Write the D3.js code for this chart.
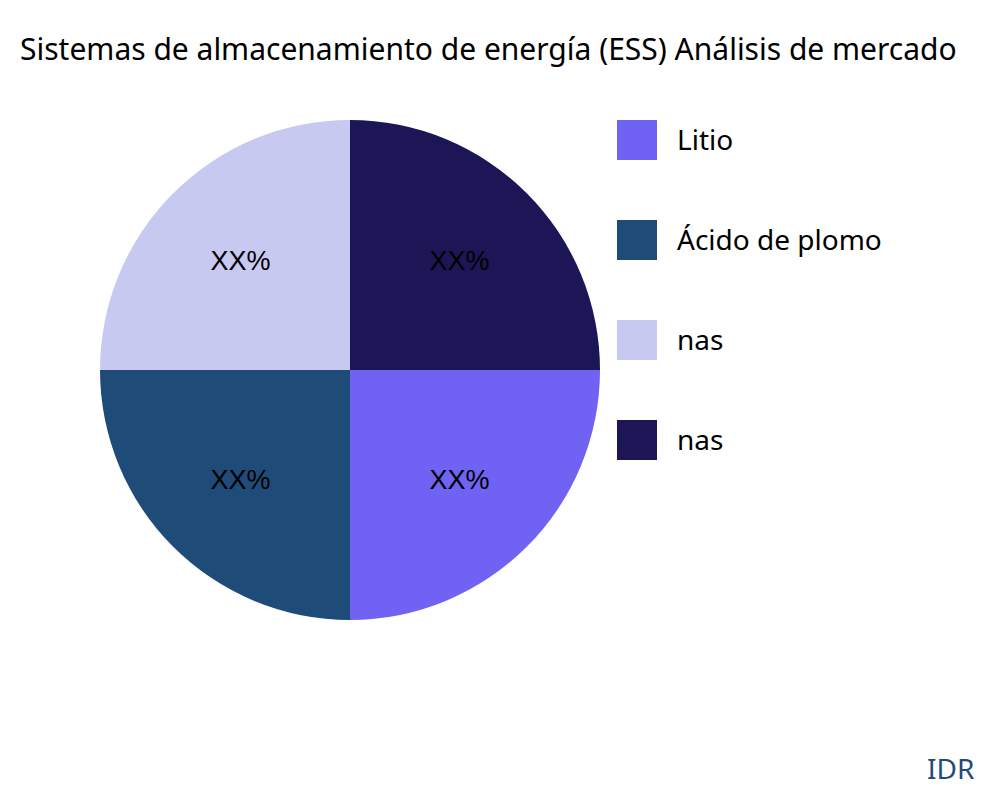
<!doctype html>
<html lang="es">
<head>
<meta charset="UTF-8">
<title>ESS</title>
<script src="https://cdn.jsdelivr.net/npm/d3@7"></script>
<style>body{margin:0;background:#fff;}</style>
</head>
<body>
<div id="viz"></div>
<script>
var categories = ["Litio", "Ácido de plomo", "nas", "nas"];
var values = [25, 25, 25, 25];
var labels = ["XX%", "XX%", "XX%", "XX%"];
var colors = ["#7062f2", "#1f4b78", "#c8c9f0", "#1c1656"];

var svg = d3.select("#viz").append("svg").attr("width", 1000).attr("height", 800);

svg.append("text").attr("x", 20).attr("y", 60)
  .attr("font-family", "Noto Sans").attr("font-size", 30)
  .text("Sistemas de almacenamiento de energía (ESS) Análisis de mercado");

var r = 250;
var g = svg.append("g").attr("transform", "translate(350,370)");
var pie = d3.pie().sort(null).startAngle(Math.PI/2).endAngle(Math.PI*2.5);
var arc = d3.arc().innerRadius(0).outerRadius(r);
var arcs = pie(values);

g.selectAll("path").data(arcs).enter().append("path")
  .attr("d", arc).attr("fill", function(d,i){ return colors[i]; });

var lab = d3.arc().innerRadius(r*0.62).outerRadius(r*0.62);
g.selectAll("text").data(arcs).enter().append("text")
  .attr("transform", function(d){ return "translate(" + lab.centroid(d) + ")"; })
  .attr("text-anchor", "middle").attr("dy", "0.35em")
  .attr("font-family", "Liberation Sans").attr("font-size", 27)
  .text(function(d,i){ return labels[i]; });

var leg = svg.selectAll(".leg").data(categories).enter().append("g")
  .attr("transform", function(d,i){ return "translate(617," + (120 + i*100) + ")"; });
leg.append("rect").attr("width", 40).attr("height", 40)
  .attr("fill", function(d,i){ return colors[i]; });
leg.append("text").attr("x", 60).attr("y", 30)
  .attr("font-family", "Noto Sans").attr("font-size", 28)
  .text(function(d){ return d; });

svg.append("text").attr("x", 927).attr("y", 779)
  .attr("font-family", "Noto Sans").attr("font-size", 28)
  .attr("fill", "#1f4b78").text("IDR");
</script>
</body>
</html>
